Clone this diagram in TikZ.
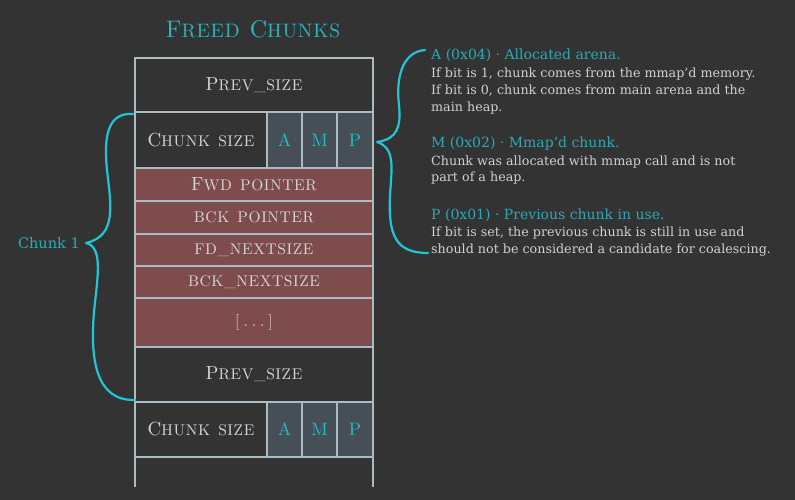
\documentclass[tikz,border=0pt]{standalone}
\usepackage{fontspec}
\newfontfamily\notefont{DejaVu Serif}
\newfontfamily\capsfont{lmroman10-regular.otf}[LetterSpace=4,WordSpace=1.4]
\definecolor{bg}{HTML}{333333}
\definecolor{gridline}{HTML}{A9BCC4}
\definecolor{labeltext}{HTML}{D2D8DA}
\definecolor{freedfill}{HTML}{7E4C4C}
\definecolor{bitfill}{HTML}{474F56}
\definecolor{titlecyan}{HTML}{27B6C2}
\definecolor{bitcyan}{HTML}{22BCCB}
\definecolor{bracecyan}{HTML}{1FC6D6}
\definecolor{headcyan}{HTML}{27ABB7}
\definecolor{bodytext}{HTML}{CBD2D5}
% capitals followed by smaller capitals
\newcommand\boxlabel[2]{{\capsfont\fontsize{19}{19}\selectfont #1}{\capsfont\fontsize{15.5}{19}\selectfont #2}}
\newcommand\smallcap[1]{{\fontsize{19.5}{24}\selectfont #1}}
\begin{document}
\begin{tikzpicture}[x=1pt,y=-1pt,
  cell/.style={draw=gridline, line width=1.4pt, fill=bg, inner sep=0pt, outer sep=0pt,
    anchor=north west, minimum width=238pt, text=labeltext},
  freed/.style={cell, fill=freedfill},
  bit/.style={cell, fill=bitfill, text=bitcyan, font=\capsfont\fontsize{18}{18}\selectfont},
  brace/.style={draw=bracecyan, line width=2.2pt, line cap=round, line join=round},
  head/.style={anchor=base west, inner sep=0pt, text=headcyan,
    font=\notefont\fontsize{14}{17}\selectfont},
  note/.style={anchor=base west, inner sep=0pt, text=bodytext,
    font=\notefont\fontsize{12.7}{17}\selectfont}]
\useasboundingbox (0,0) rectangle (795,500);
\fill[bg] (0,0) rectangle (795,500);

% title
\node[anchor=base, inner sep=0pt, text=titlecyan, font=\capsfont\fontsize{24}{24}\selectfont]
  (title) at (253,38) {F\smallcap{REED }C\smallcap{HUNKS}};

% first chunk
\node[cell, minimum height=54pt] (prev1) at (135,58) {\boxlabel{P}{REV\_SIZE}};
\node[cell, minimum width=132pt, minimum height=56pt] (cs1) at (135,112) {\boxlabel{C}{HUNK SIZE}};
\node[bit, minimum width=35pt, minimum height=56pt] (a1) at (267,112) {A};
\node[bit, minimum width=35pt, minimum height=56pt] (m1) at (302,112) {M};
\node[bit, minimum width=36pt, minimum height=56pt] (p1) at (337,112) {P};
\node[freed, minimum height=33pt] (fwd) at (135,168) {\boxlabel{F}{WD POINTER}};
\node[freed, minimum height=33pt] (bck) at (135,201) {\boxlabel{}{BCK POINTER}};
\node[freed, minimum height=32pt] (fdn) at (135,234) {\boxlabel{}{FD\_NEXTSIZE}};
\node[freed, minimum height=32pt] (bckn) at (135,266) {\boxlabel{}{BCK\_NEXTSIZE}};
\node[freed, minimum height=49pt] (dots) at (135,298) {\boxlabel{}{[\hspace{4pt}.\hspace{4pt}.\hspace{4pt}.\hspace{4pt}]}};

% next chunk
\node[cell, minimum height=55pt] (prev2) at (135,347) {\boxlabel{P}{REV\_SIZE}};
\node[cell, minimum width=132pt, minimum height=55pt] (cs2) at (135,402) {\boxlabel{C}{HUNK SIZE}};
\node[bit, minimum width=35pt, minimum height=55pt] (a2) at (267,402) {A};
\node[bit, minimum width=35pt, minimum height=55pt] (m2) at (302,402) {M};
\node[bit, minimum width=36pt, minimum height=55pt] (p2) at (337,402) {P};
\coordinate (tailL) at (135,487);
\coordinate (tailR) at (373,487);
\draw[draw=gridline, line width=1.4pt] (cs2.south west) -- (tailL);
\draw[draw=gridline, line width=1.4pt] (p2.south east) -- (tailR);

% brace spanning one chunk
\coordinate (lbtop) at (133,114);
\coordinate (lbtip) at (86,243);
\coordinate (lbbot) at (135,400);
\path[brace] (lbtop) .. controls (106,112) and (104,140) .. (107,170)
  .. controls (111,205) and (117,236) .. (lbtip)
  .. controls (104,247) and (97,280) .. (94,312)
  .. controls (90,360) and (96,401) .. (lbbot);
\node[anchor=base east, inner sep=0pt, text=headcyan, font=\notefont\fontsize{14.5}{17}\selectfont]
  (chunk1) at (80,248) {Chunk 1};

% brace gathering the flag bits
\coordinate (rbtop) at (425,50);
\coordinate (rbtip) at (377,142);
\coordinate (rbbot) at (428,253);
\path[brace] (rbtop) .. controls (401,52) and (396,80) .. (399,105)
  .. controls (401,126) and (398,139) .. (rbtip)
  .. controls (395,148) and (392,166) .. (390,195)
  .. controls (388,236) and (396,253) .. (rbbot);

% flag descriptions
\node[head] (ahead) at (431,60) {A (0x04) · Allocated arena.};
\node[note] (a1l) at (431,78) {If bit is 1, chunk comes from the mmap’d memory.};
\node[note] (a2l) at (431,95) {If bit is 0, chunk comes from main arena and the};
\node[note] (a3l) at (431,112) {main heap.};
\node[head] (mhead) at (431,147) {M (0x02) · Mmap’d chunk.};
\node[note] (m1l) at (431,165) {Chunk was allocated with mmap call and is not};
\node[note] (m2l) at (431,182) {part of a heap.};
\node[head] (phead) at (431,219) {P (0x01) · Previous chunk in use.};
\node[note] (p1l) at (431,236) {If bit is set, the previous chunk is still in use and};
\node[note] (p2l) at (431,253) {should not be considered a candidate for coalescing.};
\end{tikzpicture}
\end{document}
